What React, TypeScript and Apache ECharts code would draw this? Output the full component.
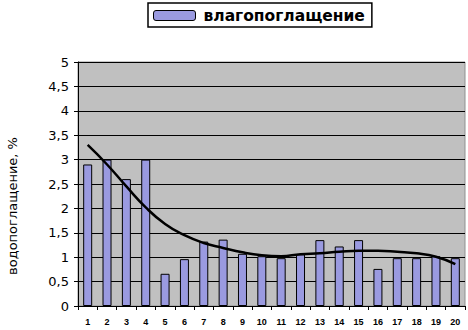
import React, { useEffect, useRef } from "react";
import * as echarts from "echarts";

const categories = ["1","2","3","4","5","6","7","8","9","10","11","12","13","14","15","16","17","18","19","20"];
const absorption = [2.9, 3.0, 2.6, 3.0, 0.66, 0.96, 1.32, 1.36, 1.07, 1.02, 0.98, 1.06, 1.35, 1.22, 1.35, 0.76, 0.98, 0.98, 1.02, 0.98];
const trend = [3.3, 2.9, 2.45, 2.02, 1.68, 1.45, 1.29, 1.19, 1.1, 1.04, 1.02, 1.06, 1.08, 1.11, 1.13, 1.13, 1.11, 1.08, 1.01, 0.86];
const seriesName = "влагопоглащение";
const axisName = "водопоглащение, %";

export default function App() {
  const ref = useRef<HTMLDivElement>(null);
  useEffect(() => {
    if (!ref.current) return;
    const chart = echarts.init(ref.current, null, { renderer: "svg" });
    chart.setOption({
      animation: false,
      backgroundColor: "#ffffff",
      legend: {
        data: [seriesName],
        left: 148,
        top: 3,
        padding: [4, 7, 3, 5],
        borderColor: "#000",
        borderWidth: 1.5,
        itemWidth: 42,
        itemHeight: 10,
        itemStyle: { borderColor: "#000", borderWidth: 1 },
        textStyle: { fontFamily: "DejaVu Sans", fontWeight: "bold", fontSize: 15.5, color: "#000", lineHeight: 17, padding: [0, 0, 0, 3] },
      },
      grid: {
        left: 78,
        right: 3,
        top: 62,
        bottom: 24,
        show: true,
        backgroundColor: "#c0c0c0",
        borderColor: "#909090",
        borderWidth: 1,
      },
      xAxis: {
        type: "category",
        data: categories,
        boundaryGap: true,
        axisLine: { lineStyle: { color: "#000", width: 1 } },
        axisTick: { show: true, alignWithLabel: false, length: 4, lineStyle: { color: "#000" } },
        axisLabel: { fontFamily: "Liberation Sans", fontWeight: "bold", fontSize: 9, color: "#000", margin: 11, interval: 0 },
        splitLine: { show: false },
      },
      yAxis: {
        type: "value",
        min: 0,
        max: 5,
        interval: 0.5,
        axisLine: { show: true, lineStyle: { color: "#000", width: 1 } },
        axisTick: { show: true, length: 4, lineStyle: { color: "#000" } },
        axisLabel: {
          fontFamily: "DejaVu Sans",
          fontSize: 13,
          color: "#000",
          margin: 9,
          formatter: (v: number) => String(v).replace(".", ","),
        },
        splitLine: { show: true, lineStyle: { color: "#000", width: 1 } },
      },
      graphic: [
        {
          type: "text",
          x: 12,
          y: 206,
          rotation: Math.PI / 2,
          style: {
            text: axisName,
            fontFamily: "DejaVu Sans",
            fontSize: 13,
            fill: "#000",
            textAlign: "center",
            textVerticalAlign: "middle",
          },
        },
      ],
      series: [
        {
          name: seriesName,
          type: "bar",
          data: absorption,
          barWidth: 9,
          itemStyle: { color: "#9a9ae0", borderColor: "#000", borderWidth: 1 },
        },
        {
          name: "trend",
          type: "line",
          data: trend,
          smooth: true,
          symbol: "none",
          lineStyle: { color: "#000", width: 2.5 },
          z: 5,
        },
      ],
    });
    return () => chart.dispose();
  }, []);
  return <div ref={ref} style={{ width: 468, height: 330, position: "absolute", left: 0, top: 0 }} />;
}
